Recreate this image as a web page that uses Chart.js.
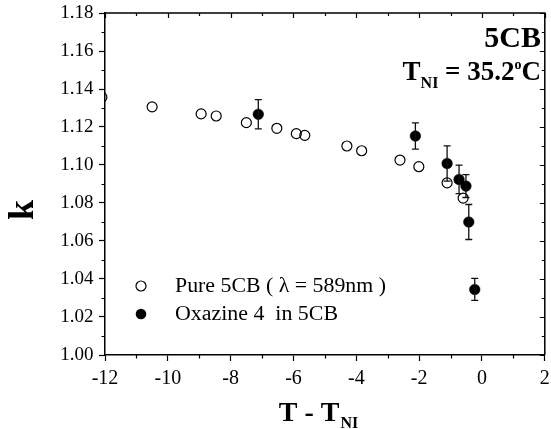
<!DOCTYPE html>
<html>
<head>
<meta charset="utf-8">
<script src="https://cdn.jsdelivr.net/npm/chart.js@4/dist/chart.umd.min.js"></script>
<style>
html,body{margin:0;padding:0;background:#fff;}
#wrap{width:551px;height:429px;}
</style>
</head>
<body>
<div id="wrap"><canvas id="c" width="551" height="429"></canvas></div>
<script>
// ---- data ----
const pureX = [-12.1, -10.5, -8.94, -8.46, -7.50, -6.53, -5.91, -5.64, -4.30, -3.83, -2.61, -2.01, -1.11, -0.60];
const pureK = [1.1357, 1.1306, 1.1269, 1.1258, 1.1223, 1.1193, 1.1165, 1.1156, 1.1100, 1.1075, 1.1026, 1.0991, 1.0906, 1.0826];
const oxX = [-7.12, -2.12, -1.11, -0.73, -0.51, -0.42, -0.23];
const oxK = [1.1267, 1.1153, 1.1008, 1.0924, 1.0889, 1.0700, 1.0345];
const oxErr = [0.0077, 0.0069, 0.0093, 0.0075, 0.0060, 0.0092, 0.0058];
const xTicks = [-12, -10, -8, -6, -4, -2, 0, 2];
const yTicks = [1.00, 1.02, 1.04, 1.06, 1.08, 1.10, 1.12, 1.14, 1.16, 1.18];
const legendLabels = ["Pure 5CB ( \u03bb = 589nm )", "Oxazine 4  in 5CB"];

const SERIF = "'Liberation Serif','Times New Roman',serif";

const toPts = (xs, ys) => xs.map((x, i) => ({x: x, y: ys[i]}));

const decorPlugin = {
  id: 'decor',
  afterDatasetsDraw(chart) {
    const ctx = chart.ctx;
    const xs = chart.scales.x, ys = chart.scales.y;
    // error bars
    ctx.save();
    ctx.strokeStyle = '#111';
    ctx.lineWidth = 1.3;
    oxX.forEach((x, i) => {
      const px = xs.getPixelForValue(x);
      const pt = ys.getPixelForValue(oxK[i] + oxErr[i]);
      const pb = ys.getPixelForValue(oxK[i] - oxErr[i]);
      ctx.beginPath();
      ctx.moveTo(px, pt); ctx.lineTo(px, pb);
      ctx.moveTo(px - 3.5, pt); ctx.lineTo(px + 3.5, pt);
      ctx.moveTo(px - 3.5, pb); ctx.lineTo(px + 3.5, pb);
      ctx.stroke();
    });
    ctx.restore();
  },
  afterDraw(chart) {
    const ctx = chart.ctx;
    const a = chart.chartArea;
    const xs = chart.scales.x, ys = chart.scales.y;
    ctx.save();
    ctx.strokeStyle = '#000';
    ctx.lineWidth = 1.5;
    // frame top/right
    ctx.beginPath();
    ctx.moveTo(a.left, a.top); ctx.lineTo(a.right, a.top); ctx.lineTo(a.right, a.bottom);
    ctx.stroke();
    ctx.lineWidth = 1.2;
    ctx.beginPath();
    for (let v = xTicks[0]; v <= xTicks[xTicks.length - 1]; v += 1) {
      const px = Math.round(xs.getPixelForValue(v)) + 0.5;
      const major = (v % 2 === 0);
      if (!major) { ctx.moveTo(px, a.bottom); ctx.lineTo(px, a.bottom + 3.5); }
      ctx.moveTo(px, a.top); ctx.lineTo(px, a.top + (major ? 5 : 3));
    }
    for (let j = 0; j <= 18; j++) {
      const v = 1.00 + j * 0.01;
      const py = Math.round(ys.getPixelForValue(v)) + 0.5;
      const major = (j % 2 === 0);
      if (!major) { ctx.moveTo(a.left, py); ctx.lineTo(a.left - 3.5, py); }
      ctx.moveTo(a.right, py); ctx.lineTo(a.right - (major ? 5 : 3), py);
    }
    ctx.stroke();

    ctx.fillStyle = '#000';
    ctx.textBaseline = 'alphabetic';
    // x title
    ctx.font = 'bold 28px ' + SERIF;
    const t1 = 'T - T';
    const w1 = ctx.measureText(t1).width;
    ctx.font = 'bold 16px ' + SERIF;
    const w2 = ctx.measureText('NI').width;
    const xStart = 318 - (w1 + w2) / 2;
    ctx.font = 'bold 28px ' + SERIF;
    ctx.fillText(t1, xStart, 421);
    ctx.font = 'bold 16px ' + SERIF;
    ctx.fillText('NI', xStart + w1 + 1, 428);

    // y title k (rotated)
    ctx.save();
    ctx.translate(33, 210);
    ctx.rotate(-Math.PI / 2);
    ctx.font = 'bold 36px ' + SERIF;
    ctx.textAlign = 'center';
    ctx.fillText('k', 0, 0);
    ctx.restore();

    // 5CB label
    ctx.font = 'bold 30px ' + SERIF;
    ctx.textAlign = 'right';
    ctx.fillText('5CB', 541, 47);
    ctx.textAlign = 'left';

    // T_NI = 35.2 oC
    const parts = [
      {t: 'T', f: 'bold 27px ', dy: 0},
      {t: 'NI', f: 'bold 16px ', dy: 8},
      {t: ' = 35.2', f: 'bold 27px ', dy: 0},
      {t: 'o', f: 'bold 14px ', dy: -11.5},
      {t: 'C', f: 'bold 27px ', dy: 0}
    ];
    let tot = 0;
    parts.forEach(p => { ctx.font = p.f + SERIF; p.w = ctx.measureText(p.t).width; tot += p.w; });
    let cx = 541 - tot;
    parts.forEach(p => { ctx.font = p.f + SERIF; ctx.fillText(p.t, cx, 80 + p.dy); cx += p.w; });

    // legend
    ctx.font = '20px ' + SERIF;
    ctx.textBaseline = 'middle';
    const ly = [286, 314];
    ctx.lineWidth = 1.2;
    ctx.beginPath(); ctx.arc(141, ly[0], 5, 0, Math.PI * 2); ctx.stroke();
    ctx.beginPath(); ctx.arc(141, ly[1], 5.3, 0, Math.PI * 2); ctx.fill();
    const targets = [211, 163];
    legendLabels.forEach((lab, i) => {
      const w = ctx.measureText(lab).width;
      const sx = targets[i] / w;
      ctx.save();
      ctx.translate(175, ly[i] + 1);
      ctx.scale(sx, 1);
      ctx.fillText(lab, 0, 0);
      ctx.restore();
    });
    ctx.restore();
  }
};

new Chart(document.getElementById('c'), {
  type: 'scatter',
  data: {
    datasets: [
      {
        label: legendLabels[0],
        data: toPts(pureX, pureK),
        pointStyle: 'circle',
        pointRadius: 5,
        pointBorderWidth: 1.2,
        borderColor: '#000',
        backgroundColor: 'rgba(255,255,255,0)',
        clip: 0,
        order: 2
      },
      {
        label: legendLabels[1],
        data: toPts(oxX, oxK),
        pointStyle: 'circle',
        pointRadius: 5.3,
        pointBorderWidth: 0.5,
        borderColor: '#000',
        backgroundColor: '#000',
        clip: 0,
        order: 1
      }
    ]
  },
  options: {
    responsive: false,
    animation: false,
    events: [],
    layout: {padding: {left: 0, top: 13, right: 4, bottom: 0}},
    plugins: {legend: {display: false}, tooltip: {enabled: false}},
    scales: {
      x: {
        type: 'linear',
        min: -12, max: 2,
        afterBuildTicks: s => { s.ticks = xTicks.map(v => ({value: v})); },
        afterFit: s => { s.height = 74; s.paddingLeft = 0; s.paddingRight = 0; },
        grid: {drawOnChartArea: false, drawTicks: true, tickLength: 6, tickColor: '#000', tickWidth: 1.2},
        border: {display: true, color: '#000', width: 1.5},
        ticks: {color: '#000', font: {family: SERIF, size: 20}, padding: 6, maxRotation: 0,
                callback: v => String(v)}
      },
      y: {
        type: 'linear',
        min: 1.00, max: 1.18,
        afterBuildTicks: s => { s.ticks = yTicks.map(v => ({value: v})); },
        afterFit: s => { s.width = 105; s.paddingTop = 0; s.paddingBottom = 0; },
        grid: {drawOnChartArea: false, drawTicks: true, tickLength: 6, tickColor: '#000', tickWidth: 1.2},
        border: {display: true, color: '#000', width: 1.5},
        ticks: {color: '#000', font: {family: SERIF, size: 19}, padding: 5.5,
                callback: v => Number(v).toFixed(2)}
      }
    }
  },
  plugins: [decorPlugin]
});
</script>
</body>
</html>
